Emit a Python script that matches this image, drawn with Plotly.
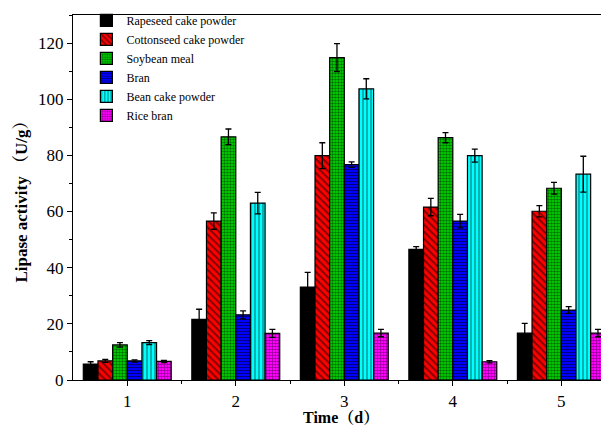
import plotly.graph_objects as go

days = [1, 2, 3, 4, 5]
series_names = ["Rapeseed cake powder", "Cottonseed cake powder", "Soybean meal",
                "Bran", "Bean cake powder", "Rice bran"]
rapeseed = [5.7, 21.6, 33.1, 46.5, 16.7]
rapeseed_err = [0.8, 3.6, 5.2, 1.0, 3.5]
cottonseed = [6.8, 56.6, 79.9, 61.6, 60.1]
cottonseed_err = [0.5, 2.9, 4.6, 3.1, 2.0]
soybean = [12.5, 86.6, 114.8, 86.3, 68.3]
soybean_err = [0.8, 2.8, 5.0, 1.8, 2.1]
bran = [6.8, 23.2, 76.7, 56.6, 24.9]
bran_err = [0.4, 1.4, 1.0, 2.4, 1.2]
bean_cake = [13.3, 63.0, 103.7, 79.9, 73.3]
bean_cake_err = [0.7, 3.8, 3.6, 2.3, 6.4]
rice_bran = [6.6, 16.6, 16.7, 6.5, 16.7]
rice_bran_err = [0.4, 1.4, 1.3, 0.4, 1.3]
y_ticks = [0, 20, 40, 60, 80, 100, 120]

values = [rapeseed, cottonseed, soybean, bran, bean_cake, rice_bran]
errors = [rapeseed_err, cottonseed_err, soybean_err, bran_err, bean_cake_err, rice_bran_err]
colors = ["#000000", "#ff0000", "#00e000", "#0000ff", "#00ffff", "#ff00ff"]
patterns = ["", "\\", ".", "-", "|", "+"]
psizes = [6, 5, 3, 3, 4, 3]
psolid = [0.3, 0.4, 0.5, 0.35, 0.3, 0.35]

font_family = "Liberation Serif"
title_family = "Liberation Serif, Noto Serif CJK SC, Noto Sans CJK SC"

fig = go.Figure()
for name, v, e, c, p, ps, so in zip(series_names, values, errors, colors, patterns, psizes, psolid):
    fig.add_trace(go.Bar(
        x=days, y=v, name=name,
        marker=dict(color=c, line=dict(color="black", width=1.2),
                    pattern=dict(shape=p, fgcolor="black", size=ps, solidity=so, fillmode="overlay")),
        error_y=dict(type="data", array=e, visible=True, color="black", thickness=1.3, width=3),
    ))

# page body has an 8px default margin: figure is sized to fill the rest of the window
fig.update_layout(
    width=601, height=424,
    margin=dict(l=65, r=1, t=7, b=52, autoexpand=False),
    paper_bgcolor="white", plot_bgcolor="white",
    barmode="group", bargap=0.19, bargroupgap=0,
    font=dict(family=font_family, size=16, color="black"),
    legend=dict(x=0.025, y=1.025, xanchor="left", yanchor="top",
                bgcolor="rgba(0,0,0,0)", font=dict(size=12, family=font_family),
                tracegroupgap=0, itemwidth=30),
    showlegend=True,
    annotations=[
        dict(text="<b>Time（d）</b>", xref="paper", yref="paper", x=0.5, y=-0.104,
             xanchor="center", yanchor="middle", showarrow=False,
             font=dict(size=16, family=title_family)),
        dict(text="<b>Lipase activity （U/g）</b>", xref="paper", yref="paper", x=-0.097, y=0.5,
             xanchor="center", yanchor="middle", textangle=-90, showarrow=False,
             font=dict(size=17, family=title_family)),
    ],
)
fig.update_xaxes(
    range=[0.5, 5.43], tickvals=days, ticktext=[str(d) for d in days],
    showline=True, linecolor="black", linewidth=1.2, mirror=True,
    ticks="outside", ticklen=5, tickcolor="black", tickwidth=1,
    minor=dict(tickvals=[1.5, 2.5, 3.5, 4.5], ticks="outside", ticklen=3, tickcolor="black"),
    showgrid=False, zeroline=False, automargin=False,
    tickfont=dict(size=17, family=font_family),
)
fig.update_yaxes(
    range=[0, 130], tickvals=y_ticks,
    showline=True, linecolor="black", linewidth=1.2, mirror=False,
    ticks="outside", ticklen=5, tickcolor="black", tickwidth=1,
    minor=dict(tickvals=[10, 30, 50, 70, 90, 110, 130], ticks="outside", ticklen=3, tickcolor="black"),
    showgrid=False, zeroline=False, automargin=False,
    tickfont=dict(size=17, family=font_family),
)

fig.write_html("out.html")
